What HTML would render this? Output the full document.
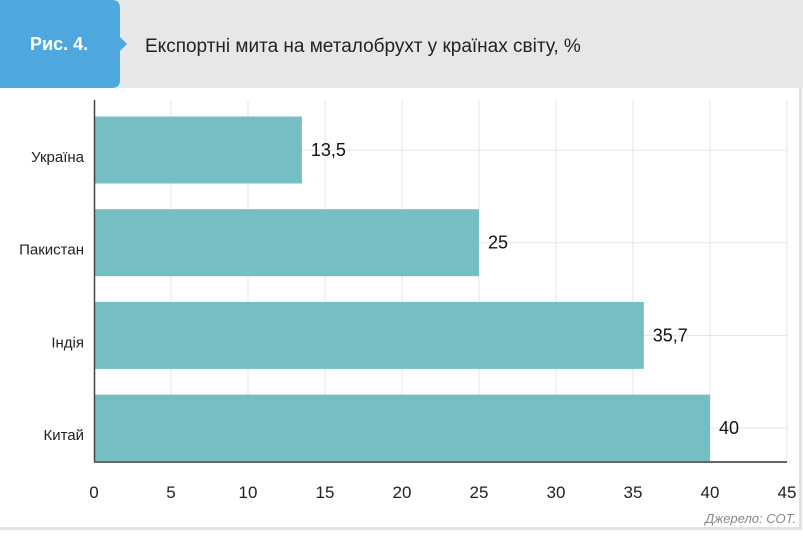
<!DOCTYPE html>
<html><head><meta charset="utf-8"><style>
body{margin:0;width:803px;height:531px;overflow:hidden;background:#fff;font-family:"Liberation Sans",sans-serif}
</style></head><body>
<svg width="803" height="531">
<rect x="0" y="0" width="803" height="88" fill="#e6e7e9"/>
<rect x="0" y="88" width="800" height="440" fill="#fff"/>
<line x1="800.5" y1="88" x2="800.5" y2="529" stroke="#e2e2e2" stroke-width="3"/>
<line x1="0" y1="528.5" x2="802" y2="528.5" stroke="#e2e2e2" stroke-width="3"/>
<path d="M0,0 H112 Q120,0 120,8 V37 L127,44 L120,51 V80 Q120,88 112,88 H0 Z" fill="#4ea8dd"/>
<text x="30" y="50" font-size="18" font-weight="bold" fill="#fff">Рис. 4.</text>
<text x="145" y="52" font-size="19" fill="#222">Експортні мита на металобрухт у країнах світу, %</text>
<g id="plot"></g>
<text x="796" y="523" font-size="13" font-style="italic" fill="#888" text-anchor="end">Джерело: СОТ.</text>
</svg>
<script>
const categories=["Україна","Пакистан","Індія","Китай"];
const values=[13.5,25,35.7,40];
const labels=["13,5","25","35,7","40"];
const ticks=[0,5,10,15,20,25,30,35,40,45];
const ns="http://www.w3.org/2000/svg",g=document.getElementById('plot');
const x=v=>94+v*(787-94)/45;
const top0=100,bottom=462,firstC=150,step=92.7,barH=67;
function el(t,a){const e=document.createElementNS(ns,t);for(const k in a)e.setAttribute(k,a[k]);g.appendChild(e);return e;}
ticks.forEach(t=>{
 if(t>0){const l=el('line',{x1:x(t),x2:x(t),y1:top0,y2:bottom,stroke:'#e4e4e4'});
 
 }
 const tx=el('text',{x:x(t),y:bottom+36,'font-size':17,'text-anchor':'middle',fill:'#222'});tx.textContent=t;
 
 
});
categories.forEach((c,i)=>{
 const cy=firstC+step*i;
 el('line',{x1:x(0),x2:x(45),y1:cy,y2:cy,stroke:'#e4e4e4'});
 const r=el('rect',{x:x(0),y:cy-barH/2,width:x(values[i])-x(0),height:barH,fill:'#75bec4'});
 
 
 const v=el('text',{x:x(values[i])+9,y:cy+6,'font-size':18,fill:'#111'});v.textContent=labels[i];
 
 
 const cl=el('text',{x:84,y:cy+12,'font-size':15,'text-anchor':'end',fill:'#222'});cl.textContent=c;
 
 
});
const ya=el('line',{x1:x(0)+.5,x2:x(0)+.5,y1:top0,y2:bottom,stroke:'#444','stroke-width':1.5});


const xa=el('line',{x1:x(0),x2:x(45),y1:bottom,y2:bottom,stroke:'#666','stroke-width':2});


</script>
</body></html>
